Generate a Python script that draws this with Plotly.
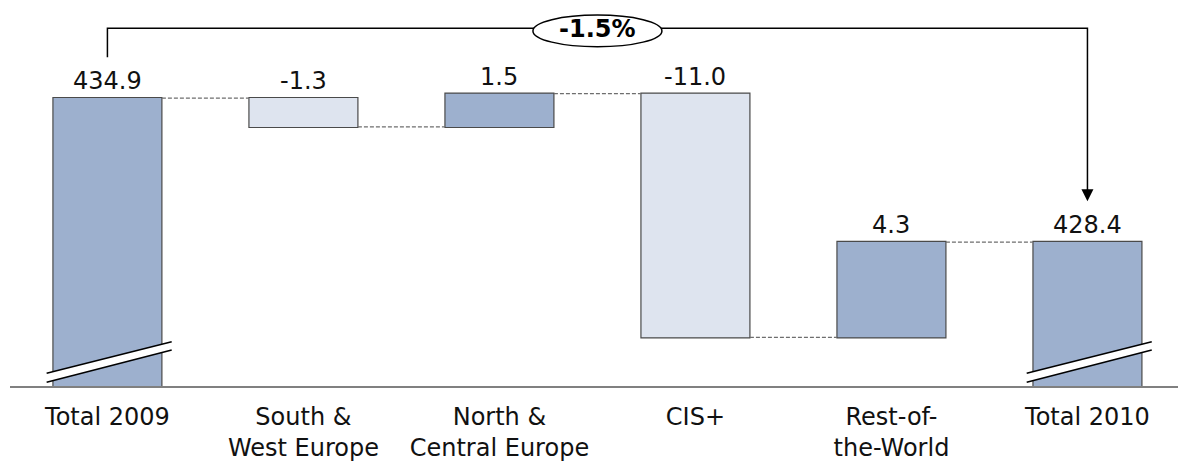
import plotly.graph_objects as go

# Revenue bridge 2009 -> 2010 by region
categories = ["Total 2009", "South &<br>West Europe", "North &<br>Central Europe",
              "CIS+", "Rest-of-<br>the-World", "Total 2010"]
start_total = 434.9
changes = [-1.3, 1.5, -11.0, 4.3]
end_total = 428.4

measures = ["absolute", "relative", "relative", "relative", "relative", "total"]
values = [start_total] + changes + [end_total]
xpos = list(range(len(categories)))

DARK = "#9DB0CE"
LIGHT = "#DEE4EF"
EDGE = "#4a4a4a"
FONT = "DejaVu Sans"

y_bottom, y_top = 421.9, 439.33

fig = go.Figure()
fig.add_trace(go.Waterfall(
    x=xpos, y=values, measure=measures,
    width=0.556,
    increasing=dict(marker=dict(color=DARK, line=dict(color=EDGE, width=1.2))),
    decreasing=dict(marker=dict(color=LIGHT, line=dict(color=EDGE, width=1.2))),
    totals=dict(marker=dict(color=DARK, line=dict(color=EDGE, width=1.2))),
    connector=dict(mode="between", line=dict(color="#6e6e6e", width=1.2, dash="4px,2px")),
    showlegend=False, hoverinfo="skip",
))

# value labels on top of each bar
running = start_total
tops = [start_total]
for d in changes:
    tops.append(max(running, running + d))
    running += d
tops.append(end_total)
for i, v in enumerate(values):
    fig.add_annotation(x=i, y=tops[i], text=f"{v:.1f}", showarrow=False,
                       yanchor="bottom", yshift=1,
                       font=dict(family=FONT, size=24, color="#111111"))

# axis-break marks across the two total bars
for i in (0, 5):
    xl, xr = i - 0.31, i + 0.328
    up_l, up_r = y_bottom + 0.58, y_bottom + 2.0
    lo_l, lo_r = y_bottom + 0.17, y_bottom + 1.63
    fig.add_shape(type="path",
                  path=f"M {xl},{up_l} L {xr},{up_r} L {xr},{lo_r} L {xl},{lo_l} Z",
                  fillcolor="white", line=dict(width=0))
    fig.add_shape(type="line", x0=xl, y0=up_l, x1=xr, y1=up_r,
                  line=dict(color="black", width=1.5))
    fig.add_shape(type="line", x0=xl, y0=lo_l, x1=xr, y1=lo_r,
                  line=dict(color="black", width=1.5))

# overall change bracket with arrow
gap = 1.84
bracket_y = 438.05
fig.add_shape(type="path",
              path=f"M 0,{start_total + gap} L 0,{bracket_y} L 5,{bracket_y} L 5,{end_total + gap + 0.3}",
              line=dict(color="black", width=1.5))
fig.add_annotation(x=5, y=end_total + gap, ax=5, ay=end_total + gap + 0.6,
                   axref="x", ayref="y", xref="x", yref="y", text="",
                   showarrow=True, arrowhead=2, arrowsize=1.6, arrowwidth=1.5,
                   arrowcolor="black", standoff=0)
pct = (end_total - start_total) / start_total * 100
fig.add_shape(type="circle", xref="x", yref="y",
              xsizemode="pixel", ysizemode="pixel",
              xanchor=2.5, yanchor=bracket_y,
              x0=-64.5, x1=64.5, y0=-18.4, y1=13.3,
              fillcolor="white", line=dict(color="black", width=1.5))
fig.add_annotation(x=2.5, y=bracket_y, text=f"<b>{pct:.1f}%</b>", showarrow=False,
                   yshift=-1, font=dict(family=FONT, size=24, color="black"))

fig.update_layout(
    width=1178, height=463,
    margin=dict(l=10, r=0, t=0, b=77),
    plot_bgcolor="white", paper_bgcolor="white",
    xaxis=dict(range=[-0.497, 5.462], tickvals=xpos, ticktext=categories,
               showgrid=False, zeroline=False, showline=True,
               linecolor="#808080", linewidth=1.5, ticks="",
               ticklabelstandoff=8,
               tickfont=dict(family=FONT, size=24, color="#111111")),
    yaxis=dict(range=[y_bottom, y_top], visible=False, showgrid=False),
)

fig.write_html("out.html")
